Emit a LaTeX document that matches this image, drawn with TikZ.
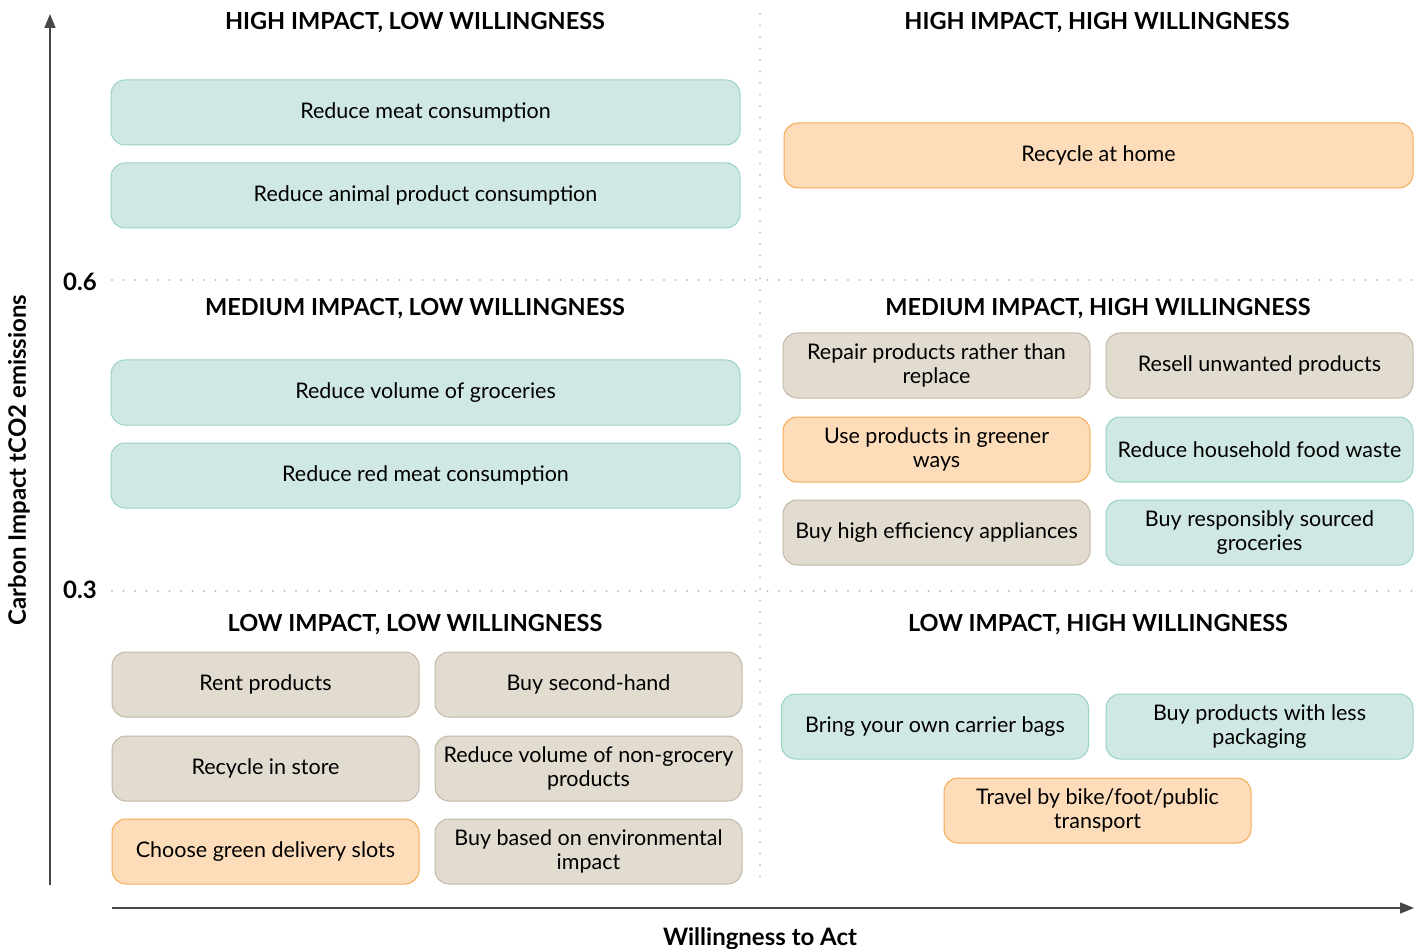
\documentclass[tikz,border=0pt]{standalone}
\usepackage{fontspec}
\setmainfont{Lato}
\usepackage{xcolor}
\definecolor{TealBg}{HTML}{D0E8E4}
\definecolor{TealLine}{HTML}{98D2C9}
\definecolor{SandBg}{HTML}{E1DBD0}
\definecolor{SandLine}{HTML}{C4B8A6}
\definecolor{PeachBg}{HTML}{FCDCB9}
\definecolor{PeachLine}{HTML}{F4AC55}
\definecolor{GridDot}{HTML}{C9BDAB}
\definecolor{AxisGrey}{HTML}{474747}
\usetikzlibrary{arrows.meta,positioning}

\begin{document}
\begin{tikzpicture}[x=1pt, y=-1pt, >={Triangle[length=14pt,width=11pt]},
  every node/.style={font=\fontsize{21.5}{24}\selectfont, align=center, inner sep=0pt},
  action/.style={draw, line width=1pt, rounded corners=14pt, minimum height=65pt},
  wide/.style={action, minimum width=629pt},
  half/.style={action, minimum width=307pt},
  teal/.style={fill=TealBg, draw=TealLine},
  sand/.style={fill=SandBg, draw=SandLine},
  peach/.style={fill=PeachBg, draw=PeachLine},
  quad/.style={font=\fontsize{23.5}{24}\selectfont\bfseries},
  axislabel/.style={font=\fontsize{24}{24}\selectfont\bfseries},
  grid/.style={draw=GridDot, line width=2.2pt, line cap=round, dash pattern=on 0pt off 11.5pt}]
  \useasboundingbox (0,0) rectangle (1424,949);

  % grid and axes
  \coordinate (midtop) at (760,14);
  \coordinate (midbot) at (760,885);
  \coordinate (l6) at (112,280);
  \coordinate (r6) at (1418,280);
  \coordinate (l3) at (112,591);
  \coordinate (r3) at (1418,591);
  \draw[grid] (midtop) -- (midbot);
  \draw[grid] (l6) -- (r6);
  \draw[grid] (l3) -- (r3);
  \coordinate (ybot) at (50,885);
  \coordinate (ytop) at (50,14);
  \coordinate (xleft) at (112,908);
  \coordinate (xright) at (1414,908);
  \draw[->, AxisGrey, line width=1.4pt] (ybot) -- (ytop);
  \draw[->, AxisGrey, line width=1.4pt] (xleft) -- (xright);
  \node[axislabel] (tick6) at (80,282) {0.6};
  \node[axislabel] (tick3) at (80,590) {0.3};
  \node[axislabel, rotate=90] (ylab) at (19,460) {Carbon Impact tCO2 emissions};
  \node[axislabel] (xlab) at (760,939) {Willingness to Act};

  % quadrant titles
  \node[quad] (hl) at (415,23) {HIGH IMPACT, LOW WILLINGNESS};
  \node[quad] (hh) at (1097,23) {HIGH IMPACT, HIGH WILLINGNESS};
  \node[quad] (ml) at (415,309) {MEDIUM IMPACT, LOW WILLINGNESS};
  \node[quad] (mh) at (1098,309) {MEDIUM IMPACT, HIGH WILLINGNESS};
  \node[quad] (ll) at (415,625) {LOW IMPACT, LOW WILLINGNESS};
  \node[quad] (lh) at (1098,625) {LOW IMPACT, HIGH WILLINGNESS};

  % high impact
  \node[wide, teal] (meat) at (425.5,112.5) {Reduce meat consumption};
  \node[wide, teal] (animal) at (425.5,195.5) {Reduce animal product consumption};
  \node[wide, peach] (rechome) at (1098.5,155.5) {Recycle at home};

  % medium impact
  \node[wide, teal] (groceries) at (425.5,392.5) {Reduce volume of groceries};
  \node[wide, teal] (redmeat) at (425.5,475.5) {Reduce red meat consumption};
  \node[half, sand] (repair) at (936.5,365.5) {Repair products rather than\\replace};
  \node[half, sand] (resell) at (1259.5,365.5) {Resell unwanted products};
  \node[half, peach] (greener) at (936.5,449.5) {Use products in greener\\ways};
  \node[half, teal] (foodwaste) at (1259.5,449.5) {Reduce household food waste};
  \node[half, sand] (appliances) at (936.5,532.5) {Buy high efficiency appliances};
  \node[half, teal] (sourced) at (1259.5,532.5) {Buy responsibly sourced\\groceries};

  % low impact
  \node[half, sand] (rent) at (265.5,684.5) {Rent products};
  \node[half, sand] (secondhand) at (588.5,684.5) {Buy second-hand};
  \node[half, sand] (recstore) at (265.5,768.5) {Recycle in store};
  \node[half, sand] (nongrocery) at (588.5,768.5) {Reduce volume of non-grocery\\products};
  \node[half, peach] (delivery) at (265.5,851.5) {Choose green delivery slots};
  \node[half, sand] (envimpact) at (588.5,851.5) {Buy based on environmental\\impact};
  \node[half, teal] (bags) at (935,726.5) {Bring your own carrier bags};
  \node[half, teal] (packaging) at (1259.5,726.5) {Buy products with less\\packaging};
  \node[half, peach] (travel) at (1097.5,810.5) {Travel by bike/foot/public\\transport};
\end{tikzpicture}
\end{document}
